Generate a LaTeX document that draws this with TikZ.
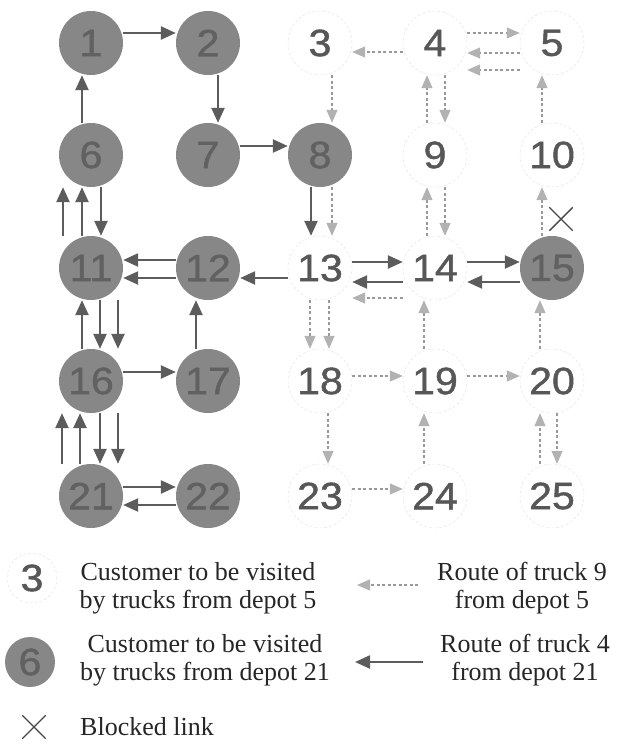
\documentclass[tikz,border=0pt]{standalone}
\usepackage{fontspec}
\setmainfont{Liberation Serif}
\newfontfamily\numfont[FakeStretch=1.08,FakeBold=1.2]{Liberation Sans}
\usetikzlibrary{arrows.meta,shapes.misc}

\begin{document}
\begin{tikzpicture}[x=1pt, y=-1pt, every node/.style={inner sep=0pt},
    cust/.style={circle, minimum size=64pt, draw=black!12, densely dashed, thin, font=\numfont\fontsize{38}{38}\selectfont, text=black!66},
    depot/.style={circle, minimum size=64pt, fill=black!47, font=\numfont\fontsize{38}{38}\selectfont, text=black!62},
    route4/.style={-{Triangle[length=15pt,width=13pt]}, line width=2.4pt, draw=black!64},
    route9/.style={-{Triangle[length=13pt,width=11pt,color=black!30]}, line width=1.3pt, draw=black!40, dash pattern=on 3pt off 2.5pt},
    blocked/.style={cross out, draw=black!72, line width=1.4pt, minimum size=22pt},
    legend/.style={align=center, font=\fontsize{26}{28}\selectfont, text=black!85}]
  % 两个车场的配送路线图
  \useasboundingbox (0,0) rectangle (616,747);

  \node[depot] (n1) at (91,43) {1};
  \node[depot] (n2) at (208,43) {2};
  \node[cust] (n3) at (320,43) {3};
  \node[cust] (n4) at (435,43) {4};
  \node[cust] (n5) at (552,43) {5};
  \node[depot] (n6) at (91,155) {6};
  \node[depot] (n7) at (208,155) {7};
  \node[depot] (n8) at (320,155) {8};
  \node[cust] (n9) at (435,155) {9};
  \node[cust] (n10) at (552,155) {10};
  \node[depot] (n11) at (91,268) {11};
  \node[depot] (n12) at (208,268) {12};
  \node[cust] (n13) at (320,268) {13};
  \node[cust] (n14) at (435,268) {14};
  \node[depot] (n15) at (552,268) {15};
  \node[depot] (n16) at (91,381) {16};
  \node[depot] (n17) at (208,381) {17};
  \node[cust] (n18) at (320,381) {18};
  \node[cust] (n19) at (435,381) {19};
  \node[cust] (n20) at (552,381) {20};
  \node[depot] (n21) at (91,496) {21};
  \node[depot] (n22) at (208,496) {22};
  \node[cust] (n23) at (320,496) {23};
  \node[cust] (n24) at (435,496) {24};
  \node[cust] (n25) at (552,496) {25};

  \draw[route4] ([yshift=10pt]n1.east) -- ([yshift=10pt]n2.west);
  \draw[route4] ([xshift=10pt]n2.south) -- ([xshift=10pt]n7.north);
  \draw[route4] ([yshift=9pt]n7.east) -- ([yshift=9pt]n8.west);
  \draw[route4] ([xshift=-9pt]n6.north) -- ([xshift=-9pt]n1.south);
  \draw[route4] ([xshift=-9pt]n8.south) -- ([xshift=-9pt]n13.north);
  \draw[route4] ([xshift=-28pt]n11.north) -- ([xshift=-28pt]n6.south);
  \draw[route4] ([xshift=-9pt]n11.north) -- ([xshift=-9pt]n6.south);
  \draw[route4] ([xshift=10pt]n6.south) -- ([xshift=10pt]n11.north);
  \draw[route4] ([yshift=8pt]n12.west) -- ([yshift=8pt]n11.east);
  \draw[route4] ([yshift=-10pt]n12.west) -- ([yshift=-10pt]n11.east);
  \draw[route4] ([yshift=-10pt]n13.west) -- ([yshift=-10pt]n12.east);
  \draw[route4] ([xshift=-9pt]n16.north) -- ([xshift=-9pt]n11.south);
  \draw[route4] ([xshift=9pt]n11.south) -- ([xshift=9pt]n16.north);
  \draw[route4] ([xshift=27pt]n11.south) -- ([xshift=27pt]n16.north);
  \draw[route4] ([yshift=9pt]n16.east) -- ([yshift=9pt]n17.west);
  \draw[route4] ([xshift=-12pt]n17.north) -- ([xshift=-12pt]n12.south);
  \draw[route4] ([xshift=-29pt]n21.north) -- ([xshift=-29pt]n16.south);
  \draw[route4] ([xshift=-11pt]n21.north) -- ([xshift=-11pt]n16.south);
  \draw[route4] ([xshift=9pt]n16.south) -- ([xshift=9pt]n21.north);
  \draw[route4] ([xshift=27pt]n16.south) -- ([xshift=27pt]n21.north);
  \draw[route4] ([yshift=9pt]n21.east) -- ([yshift=9pt]n22.west);
  \draw[route4] ([yshift=-9pt]n22.west) -- ([yshift=-9pt]n21.east);
  \draw[route4] ([yshift=6pt]n13.east) -- ([yshift=6pt]n14.west);
  \draw[route4] ([yshift=-14pt]n14.west) -- ([yshift=-14pt]n13.east);
  \draw[route4] ([yshift=6pt]n14.east) -- ([yshift=6pt]n15.west);
  \draw[route4] ([yshift=-14pt]n15.west) -- ([yshift=-14pt]n14.east);

  \draw[route9] ([yshift=-9pt]n4.west) -- ([yshift=-9pt]n3.east);
  \draw[route9] ([yshift=10pt]n4.east) -- ([yshift=10pt]n5.west);
  \draw[route9] ([yshift=-10pt]n5.west) -- ([yshift=-10pt]n4.east);
  \draw[route9] ([yshift=-27pt]n5.west) -- ([yshift=-27pt]n4.east);
  \draw[route9] ([xshift=12pt]n3.south) -- ([xshift=12pt]n8.north);
  \draw[route9] ([xshift=12pt]n8.south) -- ([xshift=12pt]n13.north);
  \draw[route9] ([xshift=-8pt]n9.north) -- ([xshift=-8pt]n4.south);
  \draw[route9] ([xshift=10pt]n4.south) -- ([xshift=10pt]n9.north);
  \draw[route9] ([xshift=-8pt]n14.north) -- ([xshift=-8pt]n9.south);
  \draw[route9] ([xshift=10pt]n9.south) -- ([xshift=10pt]n14.north);
  \draw[route9] ([xshift=-10pt]n10.north) -- ([xshift=-10pt]n5.south);
  \draw[route9] ([xshift=-10pt]n15.north) -- ([xshift=-10pt]n10.south);
  \draw[route9] ([yshift=-30pt]n14.west) -- ([yshift=-30pt]n13.east);
  \draw[route9] ([xshift=-10pt]n13.south) -- ([xshift=-10pt]n18.north);
  \draw[route9] ([xshift=9pt]n13.south) -- ([xshift=9pt]n18.north);
  \draw[route9] ([yshift=5pt]n18.east) -- ([yshift=5pt]n19.west);
  \draw[route9] ([yshift=5pt]n19.east) -- ([yshift=5pt]n20.west);
  \draw[route9] ([xshift=-11pt]n19.north) -- ([xshift=-11pt]n14.south);
  \draw[route9] ([xshift=-12pt]n20.north) -- ([xshift=-12pt]n15.south);
  \draw[route9] ([xshift=8pt]n18.south) -- ([xshift=8pt]n23.north);
  \draw[route9] ([yshift=7pt]n23.east) -- ([yshift=7pt]n24.west);
  \draw[route9] ([xshift=-11pt]n24.north) -- ([xshift=-11pt]n19.south);
  \draw[route9] ([xshift=-12pt]n25.north) -- ([xshift=-12pt]n20.south);
  \draw[route9] ([xshift=5pt]n20.south) -- ([xshift=5pt]n25.north);

  \node[blocked] (x10) at (561,219) {};

  % 图例
  \node[cust, minimum size=50pt] (k3) at (32,578) {3};
  \node[depot, minimum size=50pt] (k6) at (30,662) {6};
  \node[blocked] (kx) at (34,727) {};
  \node[legend] (t3) at (198,588) {Customer to be visited\\by trucks from depot 5};
  \node[legend] (t6) at (205,660) {Customer to be visited\\by trucks from depot 21};
  \node[legend, anchor=west] (tx) at (80,727) {Blocked link};
  \node[legend] (t9) at (522,588) {Route of truck 9\\from depot 5};
  \node[legend] (t4) at (525,660) {Route of truck 4\\from depot 21};
  \coordinate (a9) at (418,585);
  \coordinate (b9) at (357,585);
  \coordinate (a4) at (423,662);
  \coordinate (b4) at (355,662);
  \draw[route9] (a9) -- (b9);
  \draw[route4] (a4) -- (b4);
\end{tikzpicture}
\end{document}
